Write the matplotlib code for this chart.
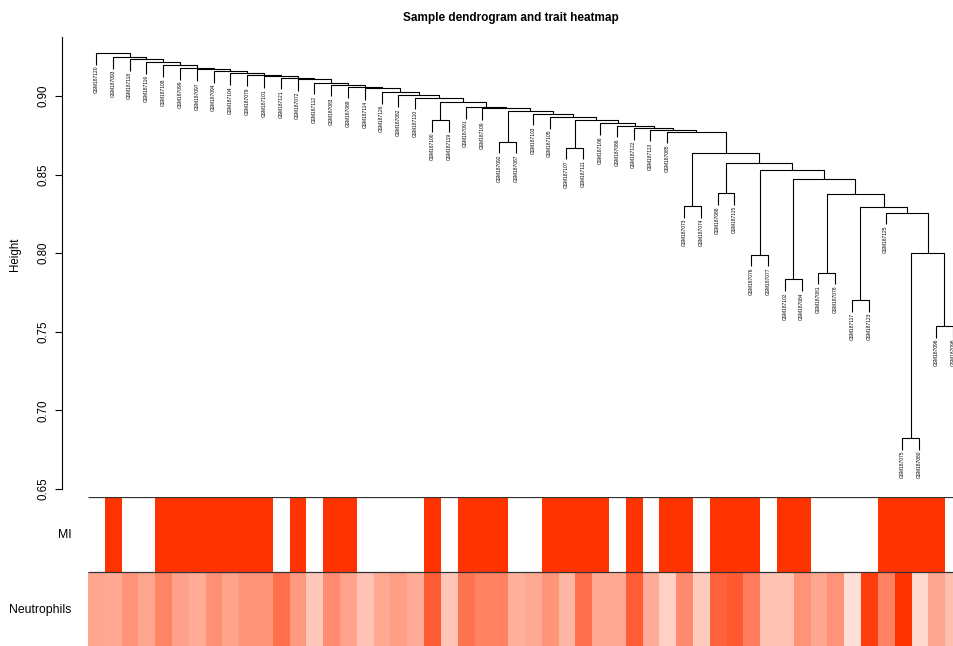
#!/usr/bin/env python3
"""
Sample dendrogram with trait heatmap underneath (WGCNA style plot)
"""

import matplotlib
matplotlib.use("Agg")
import matplotlib.pyplot as plt
from matplotlib.colors import ListedColormap, LinearSegmentedColormap

plt.rcParams['font.family'] = ['Liberation Sans', 'DejaVu Sans']

# hclust style merge table: negative = leaf (1-based), positive = earlier merge (1-based)
merge_left = [-49, -51, -46, -42, -44, -40, 1, -48, 3, -36,
              5, -38, 4, 6, 12, 10, -29, -25, -35, -34,
              -33, -32, -31, 17, -21, -28, -27, 18, -24, -23,
              25, -20, -19, -18, -17, -16, -15, -14, -13, -12,
              -11, -10, -9, -8, -7, -6, -5, -4, -3, -2,
              -1]
merge_right = [-50, -52, -47, -43, -45, -41, 2, 7, 8, -37,
               9, -39, 11, 13, 14, 15, -30, -26, 16, 19,
               20, 21, 22, 23, -22, 24, 26, 27, 28, 29,
               30, 31, 32, 33, 34, 35, 36, 37, 38, 39,
               40, 41, 42, 43, 44, 45, 46, 47, 48, 49,
               50]
merge_height = [0.6824, 0.7537, 0.7702, 0.7834, 0.7876, 0.7989, 0.8003, 0.8258, 0.8292, 0.8300,
                0.8377, 0.8381, 0.8470, 0.8529, 0.8572, 0.8635, 0.8672, 0.8709, 0.8773, 0.8784,
                0.8795, 0.8812, 0.8826, 0.8847, 0.8847, 0.8866, 0.8887, 0.8906, 0.8922, 0.8930,
                0.8964, 0.8990, 0.9003, 0.9025, 0.9049, 0.9059, 0.9070, 0.9083, 0.9108, 0.9115,
                0.9124, 0.9134, 0.9143, 0.9159, 0.9169, 0.9178, 0.9194, 0.9213, 0.9232, 0.9246,
                0.9272]

# samples in dendrogram order
sample_ids = ["GSM187120", "GSM187093", "GSM187118", "GSM187116", "GSM187108", "GSM187099",
              "GSM187097", "GSM187094", "GSM187104", "GSM187079", "GSM187101", "GSM187121",
              "GSM187072", "GSM187112", "GSM187083", "GSM187089", "GSM187114", "GSM187126",
              "GSM187082", "GSM187110", "GSM187100", "GSM187119", "GSM187091", "GSM187109",
              "GSM187092", "GSM187087", "GSM187103", "GSM187105", "GSM187107", "GSM187111",
              "GSM187106", "GSM187086", "GSM187122", "GSM187113", "GSM187085", "GSM187073",
              "GSM187074", "GSM187088", "GSM187115", "GSM187076", "GSM187077", "GSM187102",
              "GSM187084", "GSM187081", "GSM187078", "GSM187117", "GSM187123", "GSM187125",
              "GSM187075", "GSM187080", "GSM187096", "GSM187098"]

mi_status = [0, 1, 0, 0, 1, 1, 1, 1, 1, 1, 1, 0, 1, 0, 1, 1, 0, 0, 0, 0,
             1, 0, 1, 1, 1, 0, 0, 1, 1, 1, 1, 0, 1, 0, 1, 1, 0, 1, 1, 1,
             0, 1, 1, 0, 0, 0, 0, 1, 1, 1, 1, 0]

# scaled neutrophil score (0 = white, 1 = full red)
neutrophils = [0.43, 0.42, 0.53, 0.44, 0.60, 0.46, 0.41, 0.54, 0.45, 0.52,
               0.52, 0.70, 0.50, 0.27, 0.56, 0.45, 0.30, 0.42, 0.48, 0.41,
               0.80, 0.28, 0.68, 0.61, 0.61, 0.38, 0.42, 0.52, 0.36, 0.70,
               0.42, 0.42, 0.79, 0.41, 0.23, 0.57, 0.25, 0.76, 0.81, 0.64,
               0.30, 0.30, 0.53, 0.43, 0.53, 0.15, 0.95, 0.61, 1.00, 0.19,
               0.43, 0.32]

RED = '#FF3300'
W, H = 954, 646


def main():
    n = len(sample_ids)
    fig = plt.figure(figsize=(W / 100, H / 100), dpi=100)

    # dendrogram panel (right side runs past the figure edge like the original)
    ax = fig.add_axes([87.6 / W, (H - 489) / H, 873.6 / W, 452 / H])
    ax.set_xlim(-0.5, n - 0.5)
    ax.set_ylim(0.65, 0.9375)

    node_x = []
    for a, b in zip(merge_left, merge_right):
        xa = -a - 1 if a < 0 else node_x[a - 1]
        xb = -b - 1 if b < 0 else node_x[b - 1]
        node_x.append((xa + xb) / 2)

    hang = 0.03 * (max(merge_height) - min(merge_height))
    leaf_bottom = {}
    for a, b, h in zip(merge_left, merge_right, merge_height):
        pts = []
        for c in (a, b):
            if c < 0:
                x = -c - 1
                y = h - hang
                leaf_bottom[x] = y
            else:
                x = node_x[c - 1]
                y = merge_height[c - 1]
            pts.append((x, y))
        (xa, ya), (xb, yb) = pts
        ax.plot([xa, xa, xb, xb], [ya, h, h, yb], color='black', lw=0.8,
                solid_capstyle='butt')

    for i, label in enumerate(sample_ids):
        ax.text(i, leaf_bottom[i] - 0.0008, label, rotation=90, ha='center',
                va='top', fontsize=3.5)

    for side in ['top', 'right', 'bottom']:
        ax.spines[side].set_visible(False)
    ax.spines['left'].set_position(('outward', 18.4))
    ax.spines['left'].set_linewidth(0.8)
    ax.set_xticks([])
    yticks = [0.65, 0.70, 0.75, 0.80, 0.85, 0.90]
    ax.set_yticks(yticks)
    ax.set_yticklabels([f'{t:.2f}' for t in yticks], rotation=90, va='center',
                       fontsize=8.3)
    ax.tick_params(axis='y', length=5, width=0.8, pad=4)
    ax.set_ylabel('Height', fontsize=8.3)
    ax.yaxis.set_label_coords(-0.076, 0.52)

    # trait heatmap
    axh = fig.add_axes([87.6 / W, (H - 647) / H, 873.6 / W, 150 / H])
    mi_cmap = ListedColormap(['white', RED])
    neu_cmap = LinearSegmentedColormap.from_list('white_red', ['white', RED])
    axh.imshow([mi_status], extent=(-0.5, n - 0.5, 1, 2), cmap=mi_cmap,
               vmin=0, vmax=1, aspect='auto', interpolation='nearest')
    axh.imshow([neutrophils], extent=(-0.5, n - 0.5, 0, 1), cmap=neu_cmap,
               vmin=0, vmax=1, aspect='auto', interpolation='nearest')
    axh.set_xlim(-0.5, n - 0.5)
    axh.set_ylim(0, 2)
    axh.hlines([2, 1, 0], -0.5, n - 0.5, color='#333333', lw=0.9)
    axh.axis('off')
    axh.text(-1.45, 1.5, 'MI', ha='right', va='center', fontsize=8.8)
    axh.text(-1.45, 0.5, 'Neutrophils', ha='right', va='center', fontsize=8.8)

    fig.text(511 / W, 1 - 18 / H, 'Sample dendrogram and trait heatmap',
             ha='center', va='center', fontsize=8.5, fontweight='bold')

    fig.savefig('out.png', dpi=100)


if __name__ == "__main__":
    main()
